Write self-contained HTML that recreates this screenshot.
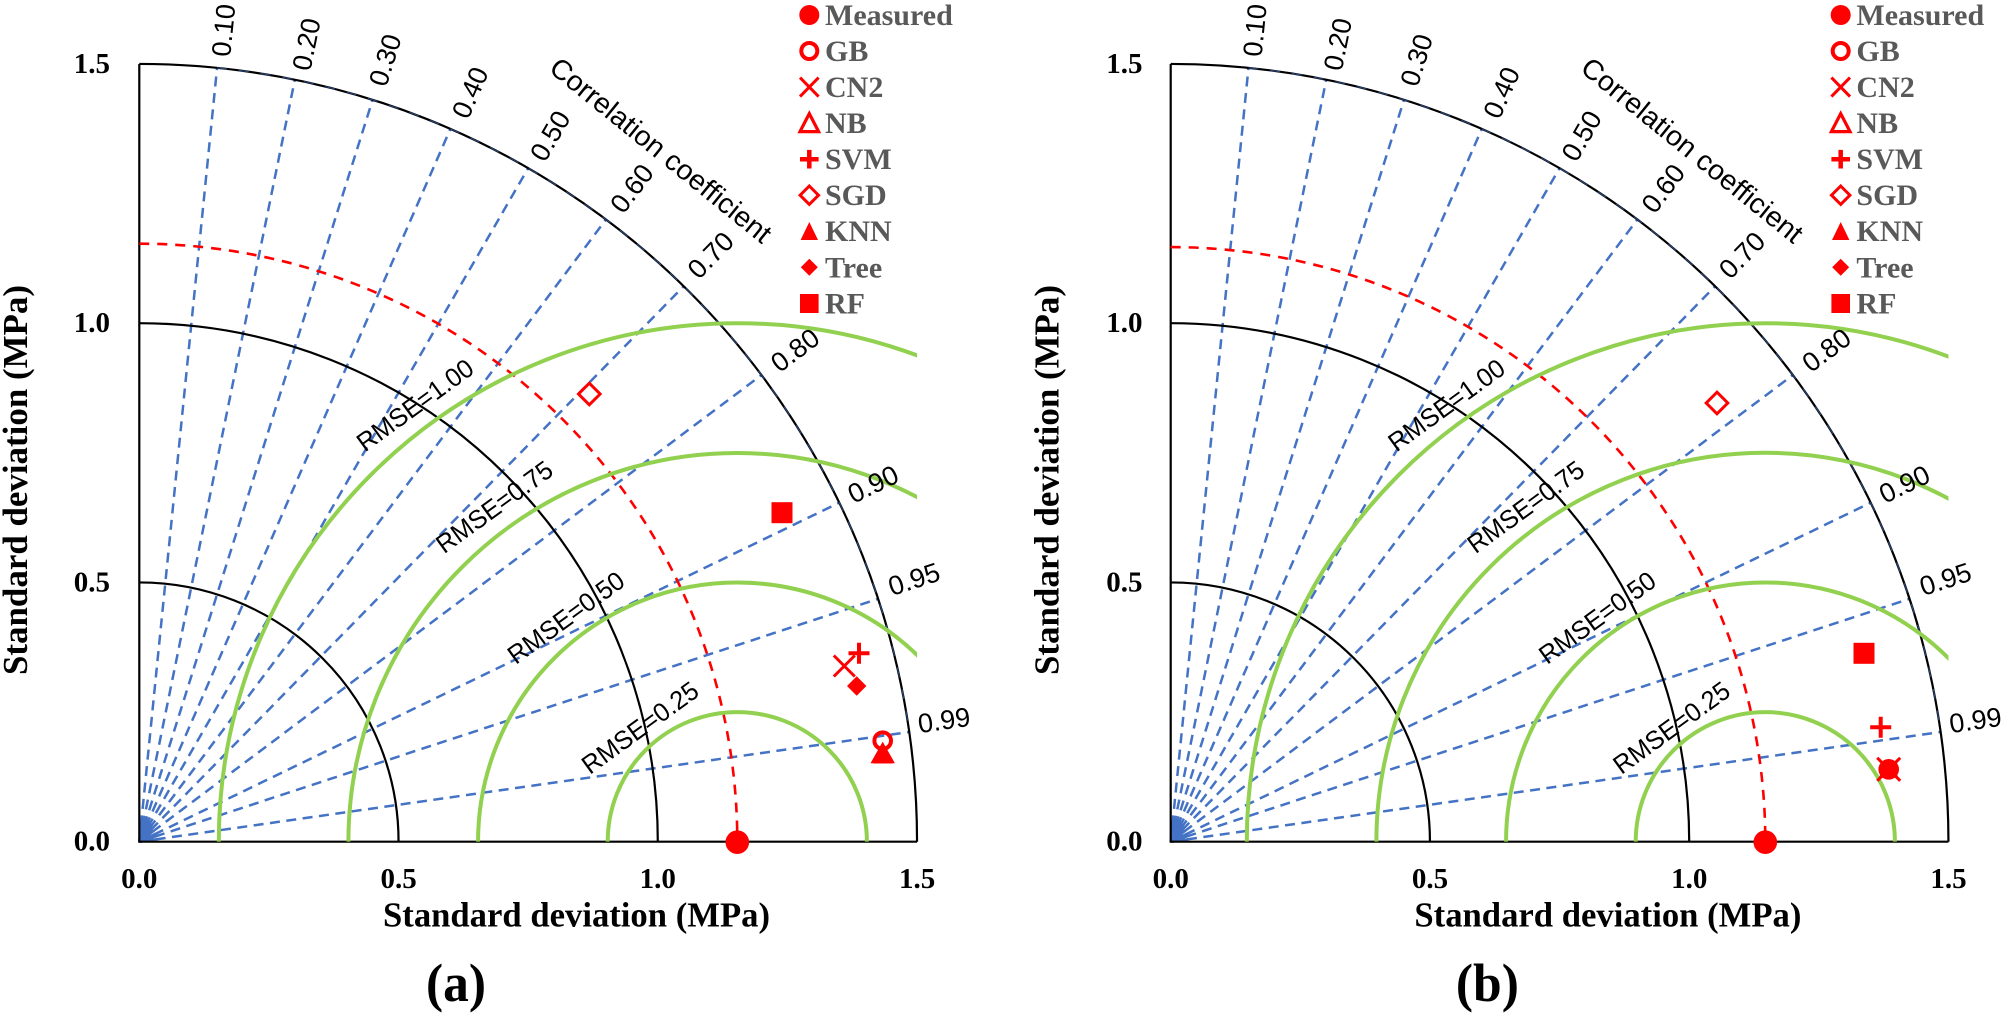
<!DOCTYPE html>
<html>
<head>
<meta charset="utf-8">
<style>
  html, body { margin:0; padding:0; background:#fff; }
  svg { display:block; }
  .cl { font-family:"Liberation Sans", Arial, sans-serif; font-size:27px; fill:#000; }
  .rm { font-family:"Liberation Sans", Arial, sans-serif; font-size:26px; fill:#000; }
  .cc { font-family:"Liberation Sans", Arial, sans-serif; font-size:28px; fill:#000; }
  .tk { font-family:"Liberation Serif", "Times New Roman", serif; font-size:29px; font-weight:bold; fill:#000; }
  .ti { font-family:"Liberation Serif", "Times New Roman", serif; font-size:35px; font-weight:bold; fill:#000; }
  .pl { font-family:"Liberation Serif", "Times New Roman", serif; font-size:54px; font-weight:bold; fill:#000; }
  .lg { font-family:"Liberation Serif", "Times New Roman", serif; font-size:30px; font-weight:bold; fill:#595959; }
  .blue { fill:none; stroke:#4472C4; stroke-width:2.5; stroke-dasharray:10 6.5; }
  .bsolid { fill:none; stroke:#4472C4; stroke-width:2.5; }
  .blk { fill:none; stroke:#000; stroke-width:2.2; }
  .red { fill:none; stroke:#FF0000; stroke-width:2.6; stroke-dasharray:10 8; }
  .grn { fill:none; stroke:#92D050; stroke-width:4; }
</style>
</head>
<body>
<svg width="2007" height="1014" viewBox="0 0 2007 1014" xmlns="http://www.w3.org/2000/svg">
<rect x="0" y="0" width="2007" height="1014" fill="#fff"/>
<defs>
  <clipPath id="clipP" clipPathUnits="userSpaceOnUse">
    <rect x="-5" y="-800" width="782.75" height="800"/>
  </clipPath>
</defs>

<!-- ================= PANEL A ================= -->
<g transform="translate(139.3 841.7)">
  <path class="blue" d="M0 0L77.78 -773.85M0 0L155.55 -762.04M0 0L233.33 -741.93M0 0L311.10 -712.82M0 0L388.88 -673.55M0 0L466.65 -622.20M0 0L544.43 -555.43M0 0L622.20 -466.65M0 0L699.98 -339.01M0 0L738.86 -242.85M0 0L769.97 -109.72"/>
  <path class="bsolid" d="M0 0L1.8 -17.9M0 0L3.6 -17.6M0 0L5.4 -17.2M0 0L7.2 -16.5M0 0L9 -15.6M0 0L10.8 -14.4M0 0L12.6 -12.9M0 0L14.4 -10.8M0 0L16.2 -7.8M0 0L17.1 -5.6M0 0L17.8 -2.5"/>
  <path class="blk" d="M0 -259.25A259.25 259.25 0 0 1 259.25 0"/>
  <path class="blk" d="M0 -518.5A518.5 518.5 0 0 1 518.5 0"/>
  <path class="blk" d="M0 -777.75A777.75 777.75 0 0 1 777.75 0"/>
  <path fill="none" stroke="#4472C4" stroke-width="1.2" stroke-dasharray="10 12" d="M77.78 -773.85A777.75 777.75 0 0 1 769.97 -109.72" opacity="0.6"/>
  <path class="blk" d="M0 -777.75L0 0L777.75 0"/>
  <path class="red" d="M0 -598A598 598 0 0 1 598 0"/>
  <g clip-path="url(#clipP)">
    <path class="grn" d="M468.4 0A129.6 129.6 0 0 1 727.6 0"/>
    <path class="grn" d="M338.75 0A259.25 259.25 0 0 1 857.25 0"/>
    <path class="grn" d="M209.1 0A388.9 388.9 0 0 1 986.9 0"/>
    <path class="grn" d="M79.5 0A518.5 518.5 0 0 1 1116.5 0"/>
  </g>
  <text class="cl" text-anchor="middle" dy="0.35em" transform="translate(84.0 -811.4) rotate(-84.26)">0.10</text>
  <text class="cl" text-anchor="middle" dy="0.35em" transform="translate(166.9 -797.5) rotate(-78.46)">0.20</text>
  <text class="cl" text-anchor="middle" dy="0.35em" transform="translate(245.7 -781.7) rotate(-72.54)">0.30</text>
  <text class="cl" text-anchor="middle" dy="0.35em" transform="translate(330.7 -749.2) rotate(-66.42)">0.40</text>
  <text class="cl" text-anchor="middle" dy="0.35em" transform="translate(410.7 -705.9) rotate(-60)">0.50</text>
  <text class="cl" text-anchor="middle" dy="0.35em" transform="translate(492.4 -653.4) rotate(-53.13)">0.60</text>
  <text class="cl" text-anchor="middle" dy="0.35em" transform="translate(571.2 -586.7) rotate(-45.57)">0.70</text>
  <text class="cl" text-anchor="middle" dy="0.35em" transform="translate(655.7 -491.7) rotate(-36.87)">0.80</text>
  <text class="cl" text-anchor="middle" dy="0.35em" transform="translate(733.7 -357.7) rotate(-25.84)">0.90</text>
  <text class="cl" text-anchor="middle" dy="0.35em" transform="translate(774.7 -262.7) rotate(-18.19)">0.95</text>
  <text class="cl" text-anchor="middle" dy="0.35em" transform="translate(804.7 -121.7) rotate(-8.11)">0.99</text>
  <text class="cc" text-anchor="middle" dy="0.35em" textLength="276" lengthAdjust="spacingAndGlyphs" transform="translate(521.7 -691.7) rotate(39)">Correlation coefficient</text>
  <text class="rm" text-anchor="middle" dy="0.35em" textLength="137" lengthAdjust="spacingAndGlyphs" transform="translate(275.7 -436.7) rotate(-36)">RMSE=1.00</text>
  <text class="rm" text-anchor="middle" dy="0.35em" textLength="137" lengthAdjust="spacingAndGlyphs" transform="translate(354.9 -335) rotate(-36)">RMSE=0.75</text>
  <text class="rm" text-anchor="middle" dy="0.35em" textLength="137" lengthAdjust="spacingAndGlyphs" transform="translate(426.5 -224.2) rotate(-36)">RMSE=0.50</text>
  <text class="rm" text-anchor="middle" dy="0.35em" textLength="137" lengthAdjust="spacingAndGlyphs" transform="translate(500.7 -114.2) rotate(-36)">RMSE=0.25</text>
  <polygon points="450,-458.5 460.8,-447.7 450,-436.9 439.2,-447.7" fill="#fff" stroke="#FF0000" stroke-width="3"/>
  <rect x="632.2" y="-339.5" width="21" height="21" fill="#FF0000"/>
  <path d="M694.5 -186.2L715.5 -165.2M694.5 -165.2L715.5 -186.2" stroke="#FF0000" stroke-width="3" fill="none"/>
  <path d="M709.2 -188.4H730.2M719.7 -198.9V-177.9" stroke="#FF0000" stroke-width="4" fill="none"/>
  <polygon points="717.4,-165.4 727.1,-155.7 717.4,-146 707.7,-155.7" fill="#FF0000"/>
  <polygon points="743.4,-97 753,-80 733.8,-80" fill="none" stroke="#FF0000" stroke-width="3"/>
  <polygon points="743.4,-96 753.1,-78.2 733.7,-78.2" fill="#FF0000"/>
  <circle cx="743.4" cy="-101" r="8.3" fill="none" stroke="#FF0000" stroke-width="4"/>
  <circle cx="598" cy="0.5" r="11.8" fill="#FF0000"/>
</g>

<text class="tk" x="139.3" y="888" text-anchor="middle">0.0</text>
<text class="tk" x="398.6" y="888" text-anchor="middle">0.5</text>
<text class="tk" x="657.8" y="888" text-anchor="middle">1.0</text>
<text class="tk" x="917.1" y="888" text-anchor="middle">1.5</text>
<text class="tk" x="110" y="850.7" text-anchor="end">0.0</text>
<text class="tk" x="110" y="591.5" text-anchor="end">0.5</text>
<text class="tk" x="110" y="332.2" text-anchor="end">1.0</text>
<text class="tk" x="110" y="73" text-anchor="end">1.5</text>
<text class="ti" x="576.5" y="926.7" text-anchor="middle" textLength="387" lengthAdjust="spacingAndGlyphs">Standard deviation (MPa)</text>
<text class="ti" text-anchor="middle" textLength="390" lengthAdjust="spacingAndGlyphs" transform="translate(27 480) rotate(-90)">Standard deviation (MPa)</text>
<text class="pl" x="456" y="1001" text-anchor="middle" textLength="60" lengthAdjust="spacingAndGlyphs">(a)</text>

<g>
  <circle cx="809.3" cy="15" r="10" fill="#FF0000"/>
  <text class="lg" x="825" y="25">Measured</text>
  <circle cx="809.3" cy="51" r="8" fill="none" stroke="#FF0000" stroke-width="4"/>
  <text class="lg" x="825" y="61">GB</text>
  <path d="M800 77.6L818.6 96.6M800 96.6L818.6 77.6" stroke="#FF0000" stroke-width="3"/>
  <text class="lg" x="825" y="97.1">CN2</text>
  <polygon points="809.3,113.6 818.6,131.6 800,131.6" fill="none" stroke="#FF0000" stroke-width="3.2"/>
  <text class="lg" x="825" y="133.1">NB</text>
  <path d="M800 159.2H818.6M809.3 149.9V168.5" stroke="#FF0000" stroke-width="4.5"/>
  <text class="lg" x="825" y="169.2">SVM</text>
  <polygon points="809.3,186 818.5,195.2 809.3,204.4 800.1,195.2" fill="#fff" stroke="#FF0000" stroke-width="3"/>
  <text class="lg" x="825" y="205.2">SGD</text>
  <polygon points="809.3,222 818,240 800.6,240" fill="#FF0000"/>
  <text class="lg" x="825" y="241.2">KNN</text>
  <polygon points="809.3,258.8 817.8,267.3 809.3,275.8 800.8,267.3" fill="#FF0000"/>
  <text class="lg" x="825" y="277.3">Tree</text>
  <rect x="800" y="294" width="18.6" height="19" fill="#FF0000"/>
  <text class="lg" x="825" y="313.3">RF</text>
</g>

<!-- ================= PANEL B ================= -->
<g transform="translate(1170.7 841.7)">
  <path class="blue" d="M0 0L77.78 -773.85M0 0L155.55 -762.04M0 0L233.33 -741.93M0 0L311.10 -712.82M0 0L388.88 -673.55M0 0L466.65 -622.20M0 0L544.43 -555.43M0 0L622.20 -466.65M0 0L699.98 -339.01M0 0L738.86 -242.85M0 0L769.97 -109.72"/>
  <path class="bsolid" d="M0 0L1.8 -17.9M0 0L3.6 -17.6M0 0L5.4 -17.2M0 0L7.2 -16.5M0 0L9 -15.6M0 0L10.8 -14.4M0 0L12.6 -12.9M0 0L14.4 -10.8M0 0L16.2 -7.8M0 0L17.1 -5.6M0 0L17.8 -2.5"/>
  <path class="blk" d="M0 -259.25A259.25 259.25 0 0 1 259.25 0"/>
  <path class="blk" d="M0 -518.5A518.5 518.5 0 0 1 518.5 0"/>
  <path class="blk" d="M0 -777.75A777.75 777.75 0 0 1 777.75 0"/>
  <path fill="none" stroke="#4472C4" stroke-width="1.2" stroke-dasharray="10 12" d="M77.78 -773.85A777.75 777.75 0 0 1 769.97 -109.72" opacity="0.6"/>
  <path class="blk" d="M0 -777.75L0 0L777.75 0"/>
  <path class="red" d="M0 -594.6A594.6 594.6 0 0 1 594.6 0"/>
  <g clip-path="url(#clipP)">
    <path class="grn" d="M465 0A129.6 129.6 0 0 1 724.2 0"/>
    <path class="grn" d="M335.35 0A259.25 259.25 0 0 1 853.85 0"/>
    <path class="grn" d="M205.7 0A388.9 388.9 0 0 1 983.5 0"/>
    <path class="grn" d="M76.1 0A518.5 518.5 0 0 1 1113.1 0"/>
  </g>
  <text class="cl" text-anchor="middle" dy="0.35em" transform="translate(84.0 -811.4) rotate(-84.26)">0.10</text>
  <text class="cl" text-anchor="middle" dy="0.35em" transform="translate(166.9 -797.5) rotate(-78.46)">0.20</text>
  <text class="cl" text-anchor="middle" dy="0.35em" transform="translate(245.7 -781.7) rotate(-72.54)">0.30</text>
  <text class="cl" text-anchor="middle" dy="0.35em" transform="translate(330.7 -749.2) rotate(-66.42)">0.40</text>
  <text class="cl" text-anchor="middle" dy="0.35em" transform="translate(410.7 -705.9) rotate(-60)">0.50</text>
  <text class="cl" text-anchor="middle" dy="0.35em" transform="translate(492.4 -653.4) rotate(-53.13)">0.60</text>
  <text class="cl" text-anchor="middle" dy="0.35em" transform="translate(571.2 -586.7) rotate(-45.57)">0.70</text>
  <text class="cl" text-anchor="middle" dy="0.35em" transform="translate(655.7 -491.7) rotate(-36.87)">0.80</text>
  <text class="cl" text-anchor="middle" dy="0.35em" transform="translate(733.7 -357.7) rotate(-25.84)">0.90</text>
  <text class="cl" text-anchor="middle" dy="0.35em" transform="translate(774.7 -262.7) rotate(-18.19)">0.95</text>
  <text class="cl" text-anchor="middle" dy="0.35em" transform="translate(804.7 -121.7) rotate(-8.11)">0.99</text>
  <text class="cc" text-anchor="middle" dy="0.35em" textLength="276" lengthAdjust="spacingAndGlyphs" transform="translate(521.7 -691.7) rotate(39)">Correlation coefficient</text>
  <text class="rm" text-anchor="middle" dy="0.35em" textLength="137" lengthAdjust="spacingAndGlyphs" transform="translate(275.7 -436.7) rotate(-36)">RMSE=1.00</text>
  <text class="rm" text-anchor="middle" dy="0.35em" textLength="137" lengthAdjust="spacingAndGlyphs" transform="translate(354.9 -335) rotate(-36)">RMSE=0.75</text>
  <text class="rm" text-anchor="middle" dy="0.35em" textLength="137" lengthAdjust="spacingAndGlyphs" transform="translate(426.5 -224.2) rotate(-36)">RMSE=0.50</text>
  <text class="rm" text-anchor="middle" dy="0.35em" textLength="137" lengthAdjust="spacingAndGlyphs" transform="translate(500.7 -114.2) rotate(-36)">RMSE=0.25</text>
  <polygon points="546.3,-449.5 557.1,-438.7 546.3,-427.9 535.5,-438.7" fill="#fff" stroke="#FF0000" stroke-width="3"/>
  <rect x="682.8" y="-198.9" width="21" height="21" fill="#FF0000"/>
  <path d="M699.5 -114.4H720.5M710 -124.9V-103.9" stroke="#FF0000" stroke-width="4" fill="none"/>
  <path d="M706.5 -83.9L729.5 -60.9M706.5 -60.9L729.5 -83.9" stroke="#FF0000" stroke-width="3" fill="none"/>
  <circle cx="718" cy="-72.4" r="10.3" fill="#FF0000"/>
  <polygon points="718,-83 728,-64 708,-64" fill="#FF0000"/>
  <circle cx="594.6" cy="0.5" r="11.8" fill="#FF0000"/>
</g>

<text class="tk" x="1170.7" y="888" text-anchor="middle">0.0</text>
<text class="tk" x="1430" y="888" text-anchor="middle">0.5</text>
<text class="tk" x="1689.2" y="888" text-anchor="middle">1.0</text>
<text class="tk" x="1948.5" y="888" text-anchor="middle">1.5</text>
<text class="tk" x="1142.5" y="850.7" text-anchor="end">0.0</text>
<text class="tk" x="1142.5" y="591.5" text-anchor="end">0.5</text>
<text class="tk" x="1142.5" y="332.2" text-anchor="end">1.0</text>
<text class="tk" x="1142.5" y="73" text-anchor="end">1.5</text>
<text class="ti" x="1607.9" y="926.7" text-anchor="middle" textLength="387" lengthAdjust="spacingAndGlyphs">Standard deviation (MPa)</text>
<text class="ti" text-anchor="middle" textLength="390" lengthAdjust="spacingAndGlyphs" transform="translate(1058.4 480) rotate(-90)">Standard deviation (MPa)</text>
<text class="pl" x="1487.4" y="1001" text-anchor="middle" textLength="63" lengthAdjust="spacingAndGlyphs">(b)</text>

<g transform="translate(1031.4 0)">
  <circle cx="809.3" cy="15" r="10" fill="#FF0000"/>
  <text class="lg" x="825" y="25">Measured</text>
  <circle cx="809.3" cy="51" r="8" fill="none" stroke="#FF0000" stroke-width="4"/>
  <text class="lg" x="825" y="61">GB</text>
  <path d="M800 77.6L818.6 96.6M800 96.6L818.6 77.6" stroke="#FF0000" stroke-width="3"/>
  <text class="lg" x="825" y="97.1">CN2</text>
  <polygon points="809.3,113.6 818.6,131.6 800,131.6" fill="none" stroke="#FF0000" stroke-width="3.2"/>
  <text class="lg" x="825" y="133.1">NB</text>
  <path d="M800 159.2H818.6M809.3 149.9V168.5" stroke="#FF0000" stroke-width="4.5"/>
  <text class="lg" x="825" y="169.2">SVM</text>
  <polygon points="809.3,186 818.5,195.2 809.3,204.4 800.1,195.2" fill="#fff" stroke="#FF0000" stroke-width="3"/>
  <text class="lg" x="825" y="205.2">SGD</text>
  <polygon points="809.3,222 818,240 800.6,240" fill="#FF0000"/>
  <text class="lg" x="825" y="241.2">KNN</text>
  <polygon points="809.3,258.8 817.8,267.3 809.3,275.8 800.8,267.3" fill="#FF0000"/>
  <text class="lg" x="825" y="277.3">Tree</text>
  <rect x="800" y="294" width="18.6" height="19" fill="#FF0000"/>
  <text class="lg" x="825" y="313.3">RF</text>
</g>
</svg>
</body>
</html>
